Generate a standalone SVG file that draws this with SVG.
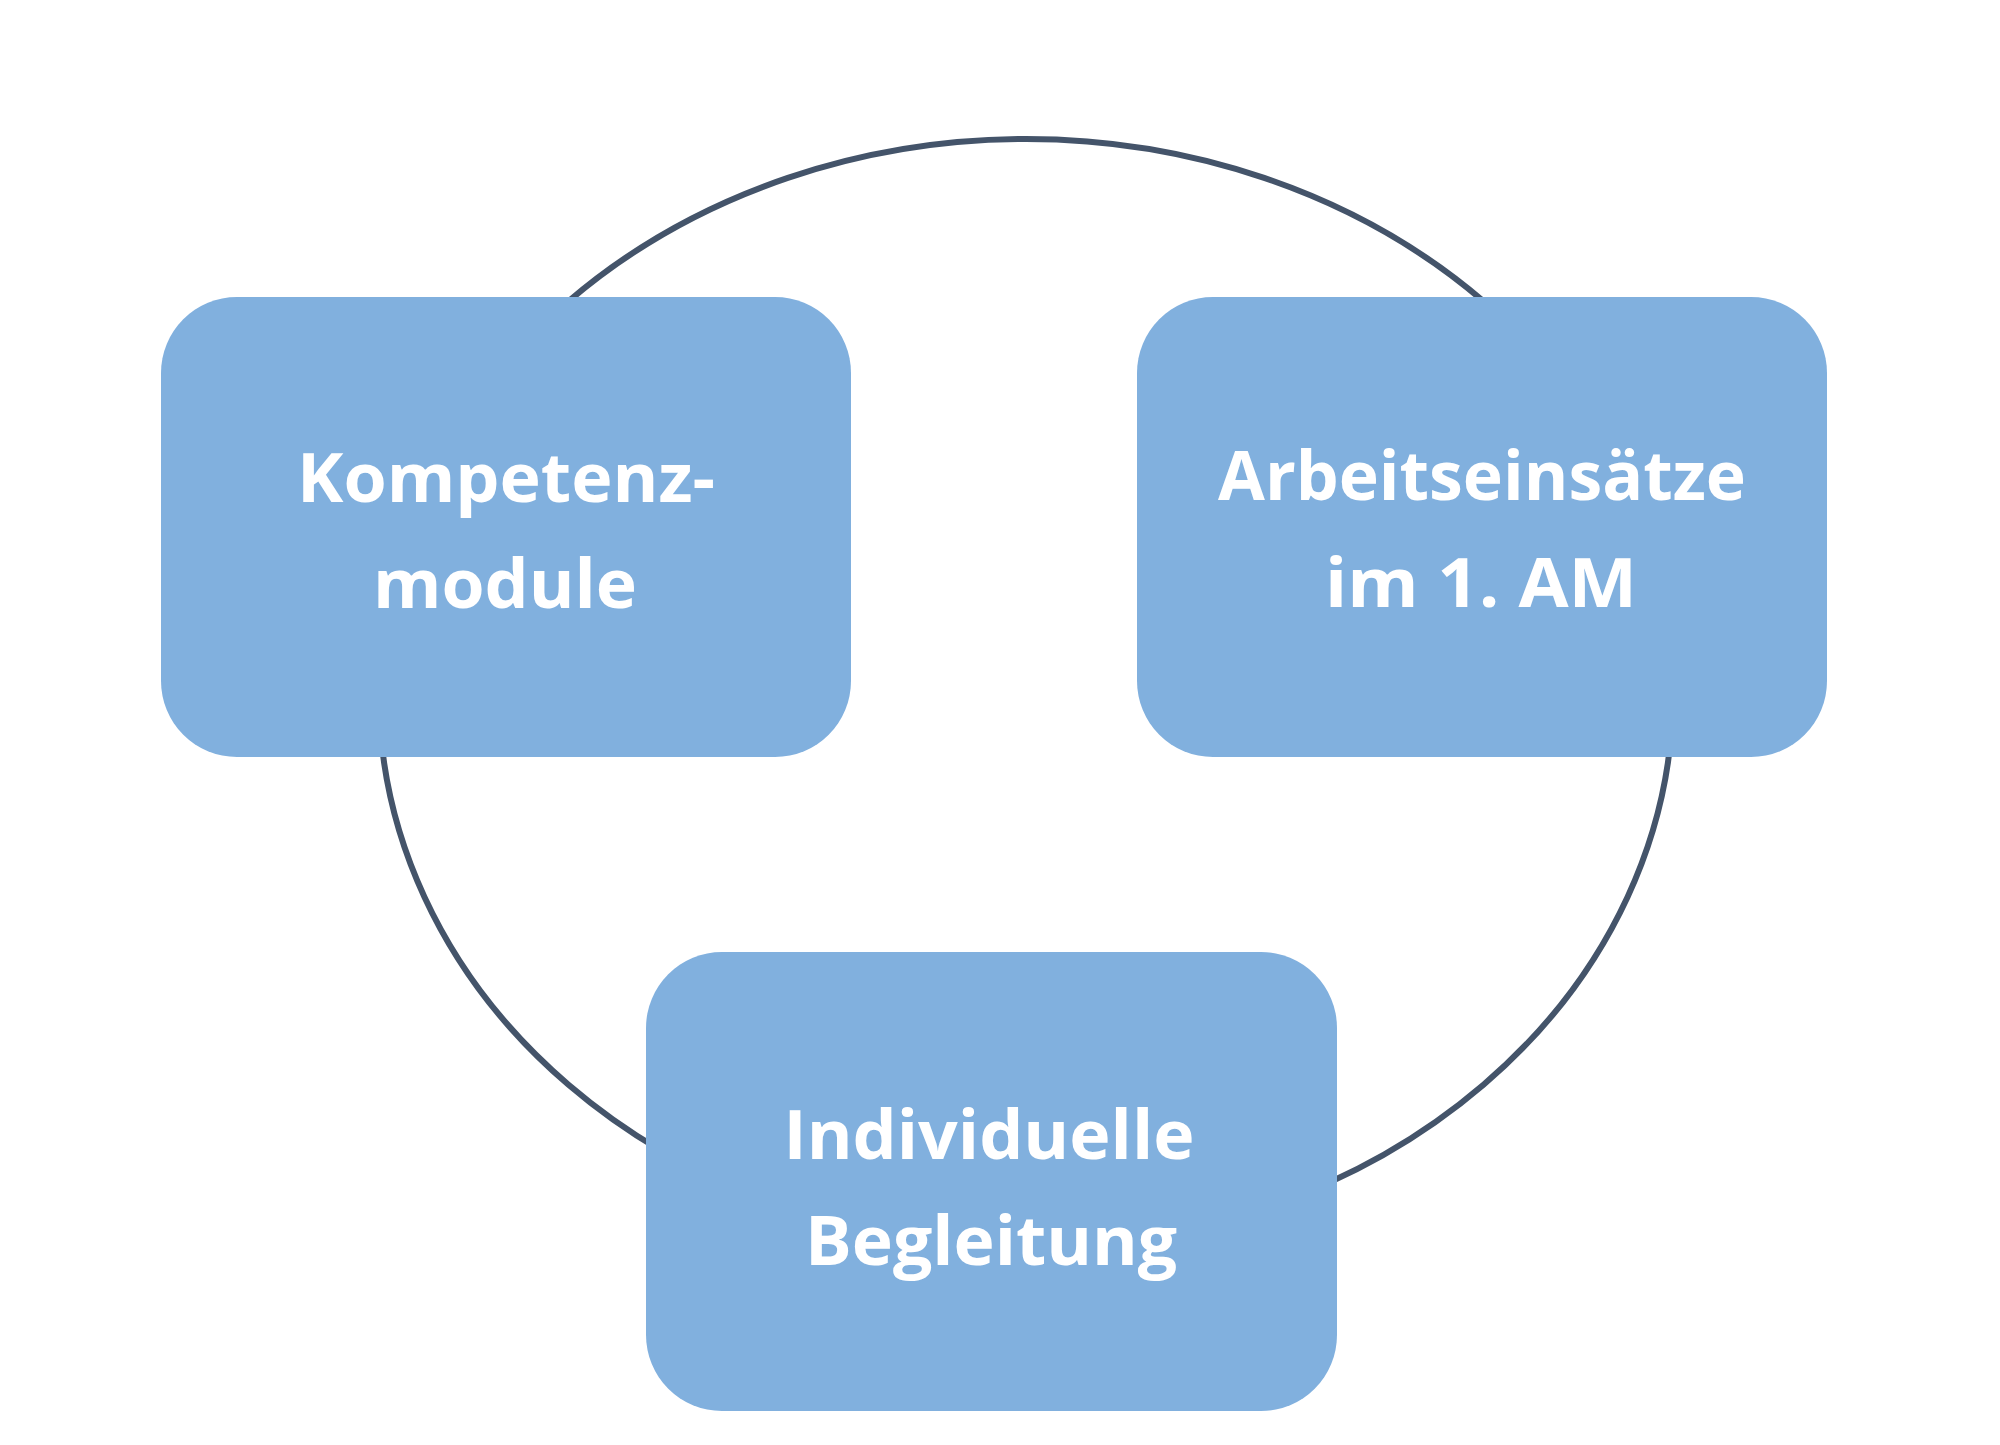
<svg xmlns="http://www.w3.org/2000/svg" width="2000" height="1445" viewBox="0 0 2000 1445">
<style>
.box{fill:#81B0DE;}
.lbl{font-family:"Open Sans",Lato,"Liberation Sans",sans-serif;font-weight:bold;font-size:68px;fill:#FFFFFF;text-anchor:middle;}
.ring{fill:none;stroke:#44546A;stroke-width:6;}
</style>
<rect width="2000" height="1445" fill="#FFFFFF"/>
<g id="connectors">
<ellipse class="ring" cx="1026" cy="693" rx="647" ry="554"/>
</g>
<g id="node-kompetenzmodule">
<rect class="box" x="161" y="297" width="690" height="460" rx="76" ry="76"/>
<text class="lbl" x="506" y="502" textLength="418" lengthAdjust="spacingAndGlyphs">Kompetenz-</text>
<text class="lbl" x="505" y="608" textLength="264" lengthAdjust="spacingAndGlyphs">module</text>
</g>
<g id="node-arbeitseinsaetze">
<rect class="box" x="1137" y="297" width="690" height="460" rx="76" ry="76"/>
<text class="lbl" x="1482" y="500" textLength="528" lengthAdjust="spacingAndGlyphs">Arbeitseinsätze</text>
<text class="lbl" x="1481" y="607" textLength="312" lengthAdjust="spacingAndGlyphs">im 1. AM</text>
</g>
<g id="node-begleitung">
<rect class="box" x="646" y="952" width="691" height="459" rx="76" ry="76"/>
<text class="lbl" x="989" y="1159" textLength="411" lengthAdjust="spacingAndGlyphs">Individuelle</text>
<text class="lbl" x="991" y="1265" textLength="372" lengthAdjust="spacingAndGlyphs">Begleitung</text>
</g>
</svg>
